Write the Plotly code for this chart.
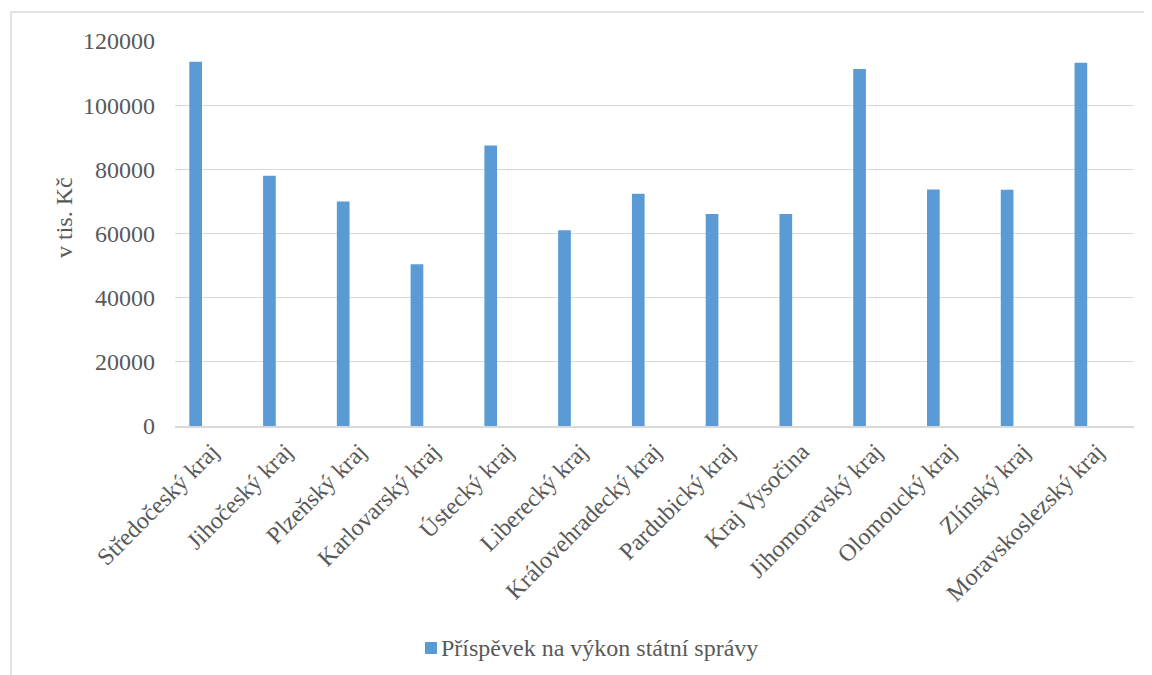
import plotly.graph_objects as go

categories = ["Středočeský kraj", "Jihočeský kraj", "Plzeňský kraj", "Karlovarský kraj",
              "Ústecký kraj", "Liberecký kraj", "Královehradecký kraj", "Pardubický kraj",
              "Kraj Vysočina", "Jihomoravský kraj", "Olomoucký kraj", "Zlínský kraj",
              "Moravskoslezský kraj"]
values = [113500, 78000, 70000, 50400, 87400, 61000, 72400, 66100, 66100,
          111300, 73700, 73600, 113200]
series_name = "Příspěvek na výkon státní správy"
y_ticks = [0, 20000, 40000, 60000, 80000, 100000, 120000]

W, H = 1152, 675
OFF = 8  # page body margin
L, R, T, B = 167, 26, 33, 257
pw = W - L - R
ph = H - T - B


def px_x(p):
    return (p - OFF - L) / pw


def px_y(p):
    return (H - B - (p - OFF)) / ph


FF = "Liberation Serif, Times New Roman, serif"
FS = 24
txt_col = "#595959"
grid_col = "#D9D9D9"
bar_col = "#5B9BD5"

fig = go.Figure()
fig.add_trace(go.Bar(
    x=categories, y=values, name=series_name,
    marker=dict(color=bar_col, line=dict(width=0)),
    width=0.172, offset=-0.306,
    showlegend=False,
))

fig.update_layout(
    width=W, height=H,
    margin=dict(l=L, r=R, t=T, b=B, autoexpand=False),
    paper_bgcolor="white", plot_bgcolor="white",
    font=dict(family=FF, size=FS, color=txt_col),
    showlegend=False,
    xaxis=dict(tickangle=-45, showgrid=False, showline=True, linecolor=grid_col, linewidth=2,
               ticks="", tickfont=dict(family=FF, size=FS, color=txt_col), zeroline=False,
               fixedrange=True, range=[-0.5, len(categories) - 0.5]),
    yaxis=dict(range=[0, 120000], tickvals=y_ticks, ticktext=[str(v) for v in y_ticks],
               showgrid=True, gridcolor=grid_col, gridwidth=1, zeroline=False,
               showline=False, ticks="", ticklabelstandoff=19,
               tickfont=dict(family=FF, size=FS, color=txt_col), fixedrange=True),
    annotations=[
        dict(text="v tis. Kč", xref="paper", yref="paper", x=px_x(64), y=px_y(218),
             xanchor="center", yanchor="middle", textangle=-90, showarrow=False,
             font=dict(size=FS, color=txt_col, family=FF)),
        dict(text=series_name, xref="paper", yref="paper", x=px_x(439), y=px_y(648),
             xanchor="left", yanchor="middle", showarrow=False,
             font=dict(size=FS, color=txt_col, family=FF)),
    ],
    shapes=[
        dict(type="line", xref="paper", yref="paper", x0=px_x(11), x1=px_x(1160), y0=px_y(12), y1=px_y(12),
             line=dict(color=grid_col, width=1.5)),
        dict(type="line", xref="paper", yref="paper", x0=px_x(11), x1=px_x(11), y0=px_y(12), y1=px_y(683),
             line=dict(color=grid_col, width=1.5)),
        dict(type="rect", xref="paper", yref="paper", x0=px_x(425), x1=px_x(437), y0=px_y(642), y1=px_y(654),
             fillcolor=bar_col, line=dict(width=0)),
    ],
)

fig.write_html("out.html")
